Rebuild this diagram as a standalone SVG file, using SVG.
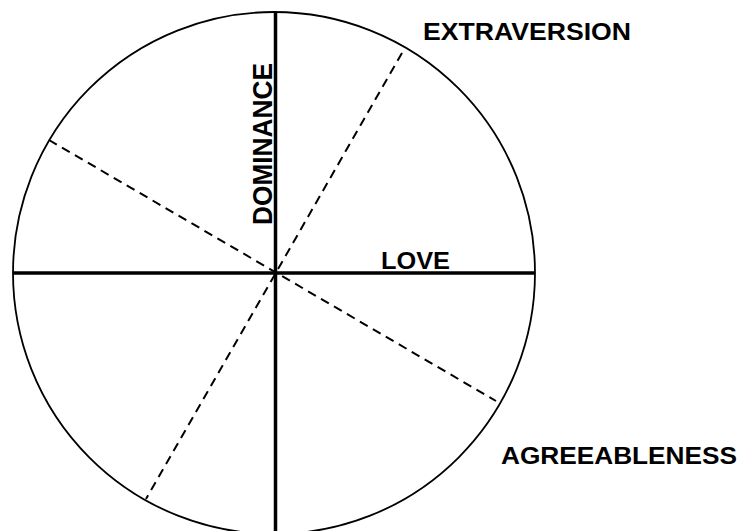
<svg xmlns="http://www.w3.org/2000/svg" width="741" height="531" viewBox="0 0 741 531">
<style>
.lbl{font-family:"Liberation Sans",Arial,sans-serif;font-weight:bold;font-size:24px;fill:#000}
.axis{stroke:#000;stroke-width:3.5;fill:none}
.dash{stroke:#000;stroke-width:2;stroke-dasharray:9,6;fill:none}
</style>
<rect width="741" height="531" fill="#fff"/>
<g id="circle">
<circle cx="274" cy="273" r="261" fill="none" stroke="#000" stroke-width="1.8"/>
</g>
<g id="connectors">
<line class="axis" x1="275.5" y1="12" x2="275.5" y2="531"/>
<line class="axis" x1="13" y1="273" x2="535" y2="273"/>
<line class="dash" x1="402" y1="53" x2="146" y2="499"/>
<line class="dash" x1="49" y1="140" x2="496" y2="401"/>
</g>
<g id="extraversion"><text class="lbl" x="423" y="39.5" textLength="208" lengthAdjust="spacingAndGlyphs">EXTRAVERSION</text></g>
<g id="love"><text class="lbl" x="381" y="268.5" textLength="69" lengthAdjust="spacingAndGlyphs">LOVE</text></g>
<g id="agreeableness"><text class="lbl" x="501" y="463.5" textLength="236" lengthAdjust="spacingAndGlyphs">AGREEABLENESS</text></g>
<g id="dominance"><text class="lbl" style="font-size:27px" transform="translate(271.5,225) rotate(-90)" x="0" y="0" textLength="162" lengthAdjust="spacingAndGlyphs">DOMINANCE</text></g>
</svg>
